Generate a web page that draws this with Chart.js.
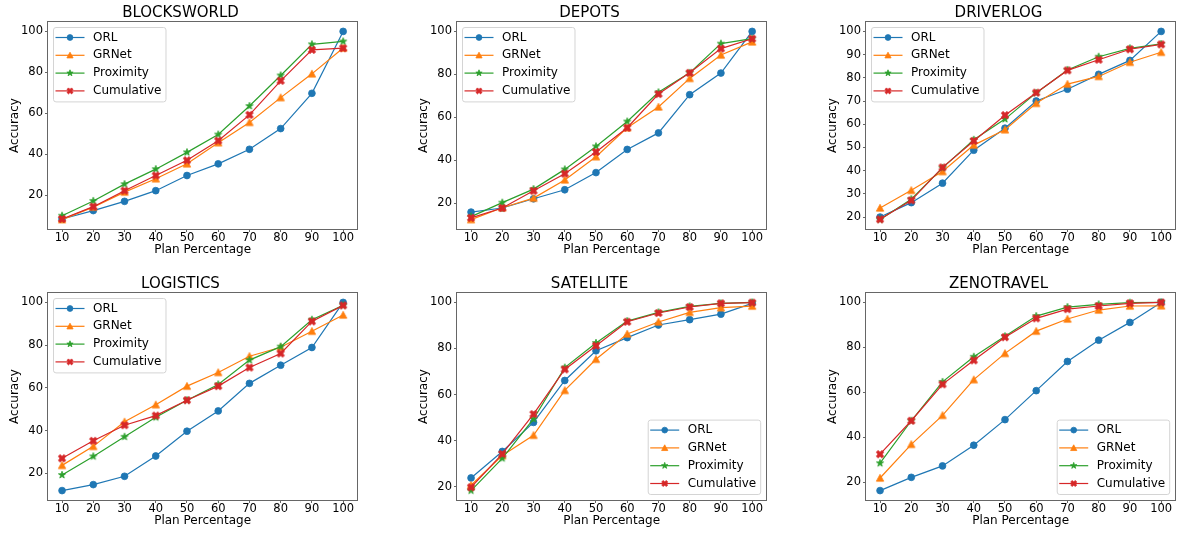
<!DOCTYPE html>
<html>
<head>
<meta charset="utf-8">
<script src="https://cdn.jsdelivr.net/npm/chart.js@4.4.0/dist/chart.umd.min.js"></script>
<style>
  html, body { margin: 0; padding: 0; background: #fff; }
  #fig { position: relative; width: 1180px; height: 533px; overflow: hidden; }
  #fig canvas { position: absolute; }
</style>
</head>
<body>
<div id="fig"></div>
<script>
  const planPct = [10, 20, 30, 40, 50, 60, 70, 80, 90, 100];
  const methods = ['ORL', 'GRNet', 'Proximity', 'Cumulative'];
  const domains = ['BLOCKSWORLD', 'DEPOTS', 'DRIVERLOG', 'LOGISTICS', 'SATELLITE', 'ZENOTRAVEL'];

  // one row per method, same order as `methods`
  const blocksworld = [
    [8.5, 12.6, 17.1, 22.3, 29.7, 35.4, 42.5, 52.6, 69.8, 100],
    [8.2, 14.3, 21.6, 28.1, 35.4, 45.7, 55.6, 67.7, 79.3, 91.9],
    [10.1, 17.3, 25.5, 32.8, 41.0, 49.7, 63.6, 78.5, 93.7, 95.1],
    [8.5, 14.5, 22.3, 29.7, 37.1, 46.7, 59.3, 75.9, 91.0, 91.8]
  ];
  const depots = [
    [15.8, 17.7, 22.0, 26.2, 34.2, 45.0, 52.7, 70.5, 80.6, 100],
    [12.3, 17.8, 22.3, 30.8, 41.6, 55.1, 64.8, 78.1, 89.0, 95.1],
    [13.7, 20.2, 26.5, 35.7, 46.4, 58.0, 71.6, 80.7, 94.3, 96.6],
    [13.1, 17.7, 25.7, 33.7, 43.8, 55.1, 70.8, 80.7, 92.0, 96.6]
  ];
  const driverlog = [
    [20.0, 26.2, 34.6, 48.8, 58.3, 70.0, 75.1, 81.5, 87.5, 100],
    [23.9, 31.5, 39.6, 51.0, 57.6, 69.0, 77.3, 80.6, 86.7, 91.0],
    [18.9, 27.7, 41.2, 53.3, 62.2, 73.5, 83.4, 89.1, 92.7, 94.6],
    [19.0, 27.2, 41.4, 52.8, 63.9, 73.6, 83.2, 87.8, 92.3, 94.4]
  ];
  const logistics = [
    [11.9, 14.7, 18.6, 28.1, 39.7, 49.2, 62.1, 70.6, 78.9, 100],
    [23.7, 32.6, 44.1, 52.1, 60.8, 67.2, 74.8, 79.0, 86.5, 94.1],
    [19.2, 27.9, 37.1, 46.2, 54.2, 61.6, 73.0, 79.3, 91.9, 98.6],
    [27.0, 35.2, 42.5, 47.0, 54.2, 60.8, 69.5, 76.1, 91.1, 98.6]
  ];
  const satellite = [
    [23.8, 35.3, 47.9, 66.1, 79.0, 84.7, 90.2, 92.5, 94.9, 99.6],
    [20.6, 33.5, 42.3, 61.8, 75.3, 86.3, 91.5, 95.7, 97.7, 98.4],
    [18.3, 32.3, 49.4, 71.7, 82.4, 91.9, 95.7, 98.3, 99.6, 100],
    [19.7, 34.2, 51.5, 70.9, 81.2, 91.6, 95.4, 98.0, 99.6, 99.9]
  ];
  const zenotravel = [
    [16.2, 22.1, 27.2, 36.4, 47.8, 60.7, 73.7, 83.2, 91.1, 100],
    [21.8, 36.8, 49.7, 65.6, 77.3, 87.2, 92.6, 96.6, 98.4, 98.5],
    [28.4, 47.3, 64.6, 75.8, 84.9, 93.9, 97.9, 99.1, 99.9, 100],
    [32.4, 47.3, 63.5, 74.2, 84.5, 92.9, 97.0, 98.4, 99.6, 100]
  ];

  const xTicks = [10, 20, 30, 40, 50, 60, 70, 80, 90, 100];
  const yTicksBy20 = [20, 40, 60, 80, 100];
  const yTicksBy10 = [20, 30, 40, 50, 60, 70, 80, 90, 100];

  const domainData = [blocksworld, depots, driverlog, logistics, satellite, zenotravel];
  const domainTicks = [yTicksBy20, yTicksBy20, yTicksBy10, yTicksBy20, yTicksBy20, yTicksBy20];
  const legendCorner = ['upper left', 'upper left', 'upper left', 'upper left', 'lower right', 'lower right'];

  const colors = ['#1f77b4', '#ff7f0e', '#2ca02c', '#d62728'];
  const shapes = ['circle', 'triangle', 'star', 'x'];

  const FONT = '"DejaVu Sans", "Liberation Sans", sans-serif';
  Chart.defaults.font.family = FONT;
  Chart.defaults.color = '#000';

  // matplotlib-like marker shapes
  function drawMarker(ctx, shape, x, y, r, color) {
    ctx.save();
    ctx.fillStyle = color;
    ctx.strokeStyle = color;
    ctx.lineWidth = 0.8;
    ctx.lineJoin = 'miter';
    ctx.beginPath();
    if (shape === 'circle') {
      ctx.arc(x, y, r, 0, Math.PI * 2);
    } else if (shape === 'triangle') {
      ctx.moveTo(x, y - r);
      ctx.lineTo(x + r, y + r * 0.85);
      ctx.lineTo(x - r, y + r * 0.85);
      ctx.closePath();
    } else if (shape === 'star') {
      for (let i = 0; i < 10; i++) {
        const rr = i % 2 === 0 ? r : r * 0.4;
        const a = -Math.PI / 2 + i * Math.PI / 5;
        const px = x + rr * Math.cos(a), py = y + rr * Math.sin(a);
        if (i === 0) ctx.moveTo(px, py); else ctx.lineTo(px, py);
      }
      ctx.closePath();
    } else {
      // filled X: a plus rotated by 45 degrees
      const t = r / 3;
      const pts = [[-t, -r], [t, -r], [t, -t], [r, -t], [r, t], [t, t], [t, r], [-t, r], [-t, t], [-r, t], [-r, -t], [-t, -t]];
      const c = Math.SQRT1_2;
      pts.forEach((p, i) => {
        const px = x + (p[0] - p[1]) * c, py = y + (p[0] + p[1]) * c;
        if (i === 0) ctx.moveTo(px, py); else ctx.lineTo(px, py);
      });
      ctx.closePath();
    }
    ctx.fill();
    ctx.stroke();
    ctx.restore();
  }

  function markerImage(shape, r, color) {
    const c = document.createElement('canvas');
    const s = Math.ceil(2 * r + 4);
    c.width = s; c.height = s;
    drawMarker(c.getContext('2d'), shape, s / 2, s / 2, r, color);
    return c;
  }

  const markerSize = [3.4, 3.7, 3.8, 4.0];
  const legendMarkerSize = [2.9, 3.1, 3.3, 3.2];

  const frame = {
    id: 'frame',
    afterDatasetsDraw(chart) {
      const { ctx, chartArea: a } = chart;
      ctx.save();
      ctx.strokeStyle = '#666';
      ctx.lineWidth = 1;
      ctx.strokeRect(Math.round(a.left) - 0.5, Math.round(a.top) - 0.5,
        Math.round(a.width) + 1, Math.round(a.height) + 1);
      ctx.restore();
    }
  };

  const mplLegend = {
    id: 'mplLegend',
    afterDraw(chart, args, opts) {
      const { ctx, chartArea: a } = chart;
      const sets = chart.data.datasets;
      ctx.save();
      ctx.font = '12px ' + FONT;
      const textW = Math.max(...sets.map(d => ctx.measureText(d.label).width));
      const rowH = 17.8;
      const w = 2 + 29 + 8.5 + textW + 4.5;
      const h = 10 + rowH * (sets.length - 1) + 11;
      let x0 = a.left + 5.5, y0 = a.top + 5.5;
      if (opts.corner === 'lower right') {
        x0 = a.right - 5.5 - w;
        y0 = a.bottom - 5.5 - h;
      }
      ctx.beginPath();
      if (ctx.roundRect) ctx.roundRect(x0, y0, w, h, 2.5); else ctx.rect(x0, y0, w, h);
      ctx.fillStyle = 'rgba(255,255,255,0.8)';
      ctx.fill();
      ctx.strokeStyle = '#d4d4d4';
      ctx.lineWidth = 1;
      ctx.stroke();
      sets.forEach((d, i) => {
        const cy = y0 + 10 + i * rowH;
        ctx.strokeStyle = d.borderColor;
        ctx.lineWidth = 1.2;
        ctx.beginPath();
        ctx.moveTo(x0 + 2, cy);
        ctx.lineTo(x0 + 31, cy);
        ctx.stroke();
        drawMarker(ctx, shapes[i], x0 + 16.5, cy, legendMarkerSize[i], d.borderColor);
        ctx.fillStyle = '#000';
        ctx.textBaseline = 'middle';
        ctx.textAlign = 'left';
        ctx.fillText(d.label, x0 + 39.5, cy);
      });
      ctx.restore();
    }
  };

  // plot area of each subplot, page pixels
  const colLeft = [48, 457, 866];
  const rowTop = [22, 293];
  const plotW = 313, plotH = 207;
  const yAxisW = 48, xAxisH = 32, titleH = 22, rightPad = 1;

  const fig = document.getElementById('fig');

  domains.forEach((name, k) => {
    const rows = domainData[k];
    const col = k % 3, row = Math.floor(k / 3);
    const canvas = document.createElement('canvas');
    canvas.width = yAxisW + plotW + rightPad;
    canvas.height = titleH + plotH + xAxisH;
    canvas.style.left = (colLeft[col] - yAxisW) + 'px';
    canvas.style.top = (rowTop[row] - titleH) + 'px';
    fig.appendChild(canvas);

    const all = rows.flat();
    const lo = Math.min(...all), hi = Math.max(...all);
    const pad = (hi - lo) * 0.05;
    const yTicks = domainTicks[k];

    const datasets = methods.map((m, i) => ({
      label: m,
      data: planPct.map((p, j) => ({ x: p, y: rows[i][j] })),
      borderColor: colors[i],
      backgroundColor: colors[i],
      borderWidth: 1.2,
      pointStyle: shapes[i] === 'circle' ? 'circle' : markerImage(shapes[i], markerSize[i], colors[i]),
      pointRadius: markerSize[i],
      pointBorderWidth: 0.8,
      pointBackgroundColor: colors[i],
      pointBorderColor: colors[i],
      order: methods.length - i,
      tension: 0
    }));

    new Chart(canvas.getContext('2d'), {
      type: 'line',
      data: { datasets: datasets },
      options: {
        responsive: false,
        animation: false,
        devicePixelRatio: 1,
        layout: { padding: { right: rightPad } },
        events: [],
        scales: {
          x: {
            type: 'linear',
            min: 5.5,
            max: 104.5,
            afterBuildTicks: (scale) => { scale.ticks = xTicks.map(v => ({ value: v })); },
            afterFit: (scale) => { scale.height = xAxisH; },
            grid: { drawOnChartArea: false, drawTicks: true, tickLength: 3, color: '#666' },
            border: { display: false },
            ticks: { autoSkip: false, maxRotation: 0, padding: 0, font: { size: 11.5, lineHeight: 1 } },
            title: { display: true, text: 'Plan Percentage', font: { size: 12 }, padding: { top: 0, bottom: 3.8 } }
          },
          y: {
            type: 'linear',
            min: lo - pad,
            max: hi + pad,
            afterBuildTicks: (scale) => { scale.ticks = yTicks.map(v => ({ value: v })); },
            afterFit: (scale) => { scale.width = yAxisW; },
            grid: { drawOnChartArea: false, drawTicks: true, tickLength: 3, color: '#666' },
            border: { display: false },
            ticks: { padding: 2, font: { size: 11.5 } },
            title: { display: true, text: 'Accuracy', font: { size: 12 }, padding: { top: 7.3, bottom: 0 } }
          }
        },
        plugins: {
          legend: { display: false },
          tooltip: { enabled: false },
          title: {
            display: true,
            text: name,
            font: { size: 15, weight: 'normal' },
            color: '#000',
            padding: { top: 4, bottom: 0 }
          },
          mplLegend: { corner: legendCorner[k] }
        }
      },
      plugins: [frame, mplLegend]
    });
  });
</script>
</body>
</html>
